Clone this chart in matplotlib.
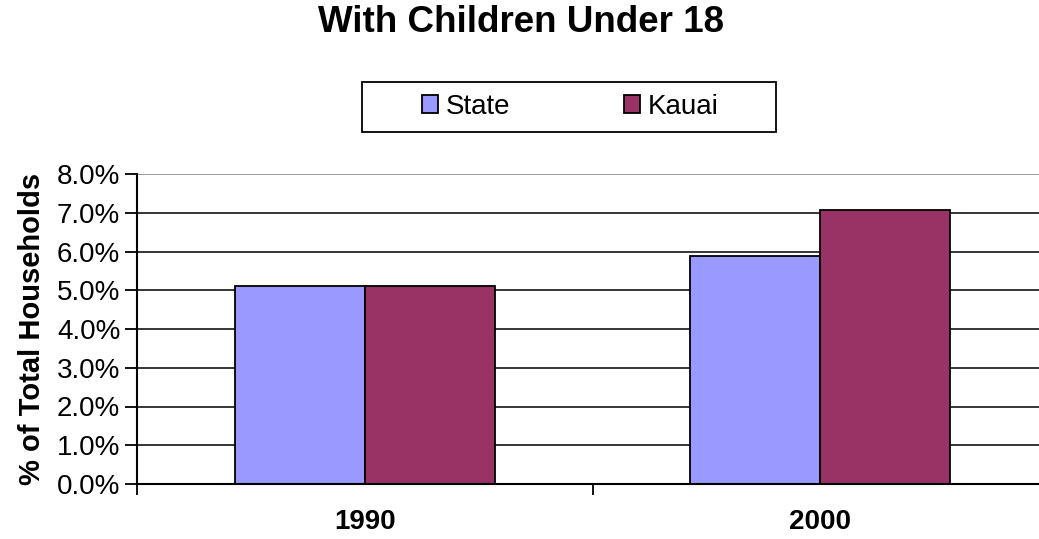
import numpy as np
import matplotlib
matplotlib.use("Agg")
import matplotlib.pyplot as plt
from matplotlib.patches import Rectangle
from matplotlib.ticker import FuncFormatter

plt.rcParams["font.family"] = ["Liberation Sans", "DejaVu Sans"]

years = ["1990", "2000"]
state = [5.1, 5.88]
kauai = [5.1, 7.07]
yticks = np.arange(0, 9, 1)

W, H = 1039, 539
fig = plt.figure(figsize=(W / 100, H / 100), dpi=100)
ax = fig.add_axes([137 / W, 1 - 484 / H, (1048 - 137) / W, (484 - 174) / H])

x = np.arange(len(years))
bw = 0.285
ax.bar(x - bw / 2, state, bw, color="#9999ff", edgecolor="black", linewidth=1.3, zorder=3, label="State")
ax.bar(x + bw / 2, kauai, bw, color="#993366", edgecolor="black", linewidth=1.3, zorder=3, label="Kauai")

ax.set_xlim(-0.5, len(years) - 0.5)
ax.set_ylim(0, 8)
ax.set_yticks(yticks)
ax.yaxis.set_major_formatter(FuncFormatter(lambda v, p: f"{v:.1f}%"))
for v in yticks[1:]:
    ax.axhline(v, color="gray" if v == 8 else "black", linewidth=1.1, zorder=1)

ax.set_xticks(np.arange(-0.5, len(years)), labels=[""] * (len(years) + 1))
ax.set_xticks(x, labels=years, minor=True)
ax.tick_params(axis="x", which="major", direction="out", length=8, width=1.3)
ax.tick_params(axis="x", which="minor", length=0, pad=18, labelsize=20)
for lbl in ax.get_xticklabels(minor=True):
    lbl.set_fontweight("bold")
ax.tick_params(axis="y", direction="out", length=9, width=1.3, labelsize=20, pad=3)

for s in ["top", "right"]:
    ax.spines[s].set_visible(False)
for s in ["left", "bottom"]:
    ax.spines[s].set_linewidth(1.5)
    ax.spines[s].set_zorder(4)

ax.set_ylabel("% of Total Households", fontsize=21, fontweight="bold", labelpad=8)

fig.text(521 / W, 1 - 23 / H, "With Children Under 18", fontsize=26.5, fontweight="bold",
         ha="center", va="center")

fig.patches.append(Rectangle((362 / W, 1 - 132 / H), (776 - 362) / W, 50 / H,
                             transform=fig.transFigure, fill=False, edgecolor="black",
                             linewidth=1.3))
fig.legend(loc="center", bbox_to_anchor=(570 / W, 1 - 107 / H), ncol=2, frameon=False,
           fontsize=20, handlelength=0.6, handleheight=0.6, handletextpad=0.25,
           columnspacing=4.1)

fig.savefig("out.png", dpi=100)
